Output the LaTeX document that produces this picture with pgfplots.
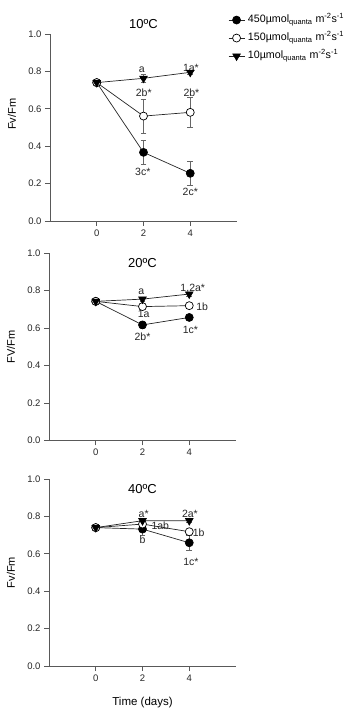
\documentclass[border=0pt]{standalone}
\usepackage{fontspec}
\setmainfont{Liberation Sans}
\usepackage{pgfplots}
\pgfplotsset{compat=1.18}

\definecolor{axgray}{gray}{0.35}
\definecolor{ebgray}{gray}{0.4}

\tikzset{
 ann/.style={font=\fontsize{10.5}{12}\selectfont, text=black!85, inner sep=0pt},
 ttl/.style={font=\fontsize{13}{15}\selectfont, inner sep=0pt},
}

\pgfplotsset{
 panel/.style={
  scale only axis, width=187pt, height=187pt,
  xmin=-2, xmax=6, ymin=0, ymax=1,
  axis x line*=bottom, axis y line*=left,
  axis line style={axgray, line width=0.7pt, -},
  xtick={0,2,4}, ytick={0,0.2,0.4,0.6,0.8,1},
  tick align=outside, major tick length=5pt,
  tick style={axgray, line width=0.7pt},
  /pgf/number format/assume math mode=true,
  ticklabel style={font=\fontsize{9.5}{11}\selectfont, text=black!85},
  y tick label style={/pgf/number format/fixed, /pgf/number format/fixed zerofill, /pgf/number format/precision=1},
  ylabel style={font=\fontsize{11}{13}\selectfont},
  xlabel style={font=\fontsize{11.5}{13}\selectfont},
  clip=false,
  legend image code/.code={\draw[#1, mark repeat=2, mark phase=2] plot coordinates {(0pt,0pt) (8pt,0pt) (16pt,0pt)};},
 },
 sA/.style={black!85, line width=0.7pt, mark=*, mark size=4pt, mark options={fill=black, draw=black, solid}},
 sB/.style={black!85, line width=0.7pt, mark=*, mark size=4pt, mark options={fill=white, draw=black, solid}},
 sC/.style={black!85, line width=0.7pt, mark=triangle*, mark size=4.4pt, mark options={fill=black, draw=black, rotate=180, solid}},
 eb/.style={error bars/.cd, y dir=both, y explicit, error bar style={ebgray, line width=0.7pt}, error mark options={rotate=90, mark size=2.8pt, ebgray, line width=0.7pt}},
}

\begin{document}
\begin{tikzpicture}
\useasboundingbox (0,0) rectangle (347pt,709pt);

% ---------- 10 C ----------
\begin{axis}[panel, at={(50pt,488pt)}, anchor=south west,
  ylabel={Fv/Fm}, ylabel style={at={(axis description cs:-0.203,0.57)}, anchor=center},
  legend style={at={(axis description cs:0.952,1.105)}, anchor=north west, draw=none, fill=none,
    inner sep=0pt, row sep=7pt, column sep=3pt,
    font=\fontsize{10.7}{13}\selectfont,
    nodes={inner sep=0pt, text height=8pt, text depth=3pt}},
  legend cell align=left]
\addplot[sA, eb] coordinates {(0,0.74) +- (0,0.01) (2,0.367) +- (0,0.065) (4,0.255) +- (0,0.062)};
\addlegendentry{450µmol\textsubscript{quanta} m\textsuperscript{-2}s\textsuperscript{-1}}
\addplot[sB, eb] coordinates {(0,0.74) +- (0,0.01) (2,0.561) +- (0,0.09) (4,0.581) +- (0,0.08)};
\addlegendentry{150µmol\textsubscript{quanta} m\textsuperscript{-2}s\textsuperscript{-1}}
\addplot[sC, eb] coordinates {(0,0.74) +- (0,0.01) (2,0.763) +- (0,0.02) (4,0.795) +- (0,0.01)};
\addlegendentry{10µmol\textsubscript{quanta} m\textsuperscript{-2}s\textsuperscript{-1}}
\node[ttl] at (axis description cs:0.5,1.053) {10ºC};
\node[ann] at (axis cs:1.93,0.807) {a};
\node[ann] at (axis cs:4.03,0.82) {1a*};
\node[ann] at (axis cs:2.01,0.688) {2b*};
\node[ann] at (axis cs:4.05,0.688) {2b*};
\node[ann] at (axis cs:1.97,0.26) {3c*};
\node[ann] at (axis cs:4.0,0.157) {2c*};
\end{axis}

% ---------- 20 C ----------
\begin{axis}[panel, at={(49pt,268.7pt)}, anchor=south west,
  ylabel={FV/Fm}, ylabel style={at={(axis description cs:-0.203,0.5)}, anchor=center}]
\addplot[sA, eb] coordinates {(0,0.743) +- (0,0.01) (2,0.617) +- (0,0.02) (4,0.657) +- (0,0.01)};
\addplot[sB, eb] coordinates {(0,0.743) +- (0,0.01) (2,0.715) +- (0,0.01) (4,0.72) +- (0,0.01)};
\addplot[sC, eb] coordinates {(0,0.743) +- (0,0.01) (2,0.755) +- (0,0.01) (4,0.782) +- (0,0.01)};
\node[ttl] at (axis description cs:0.5,0.947) {20ºC};
\node[ann] at (axis cs:1.95,0.796) {a};
\node[ann] at (axis cs:4.15,0.812) {1,2a*};
\node[ann] at (axis cs:4.55,0.712) {1b};
\node[ann] at (axis cs:2.05,0.677) {1a};
\node[ann] at (axis cs:2.0,0.555) {2b*};
\node[ann] at (axis cs:4.05,0.591) {1c*};
\end{axis}

% ---------- 40 C ----------
\begin{axis}[panel, at={(49pt,43pt)}, anchor=south west,
  ylabel={Fv/Fm}, ylabel style={at={(axis description cs:-0.203,0.5)}, anchor=center},
  xlabel={Time (days)}, xlabel style={at={(axis description cs:0.5,-0.193)}, anchor=center}]
\addplot[sA, eb] coordinates {(0,0.74) +- (0,0.01) (2,0.732) +- (0,0.035) (4,0.659) +- (0,0.04)};
\addplot[sB, eb] coordinates {(0,0.74) +- (0,0.01) (2,0.759) +- (0,0.01) (4,0.718) +- (0,0.01)};
\addplot[sC, eb] coordinates {(0,0.74) +- (0,0.01) (2,0.777) +- (0,0.01) (4,0.777) +- (0,0.01)};
\node[ttl] at (axis description cs:0.5,0.947) {40ºC};
\node[ann] at (axis cs:2.05,0.815) {a*};
\node[ann] at (axis cs:4.03,0.816) {2a*};
\node[ann] at (axis cs:2.76,0.749) {1ab};
\node[ann] at (axis cs:4.4,0.713) {1b};
\node[ann] at (axis cs:2.0,0.674) {b};
\node[ann] at (axis cs:4.07,0.558) {1c*};
\end{axis}
\end{tikzpicture}
\end{document}
